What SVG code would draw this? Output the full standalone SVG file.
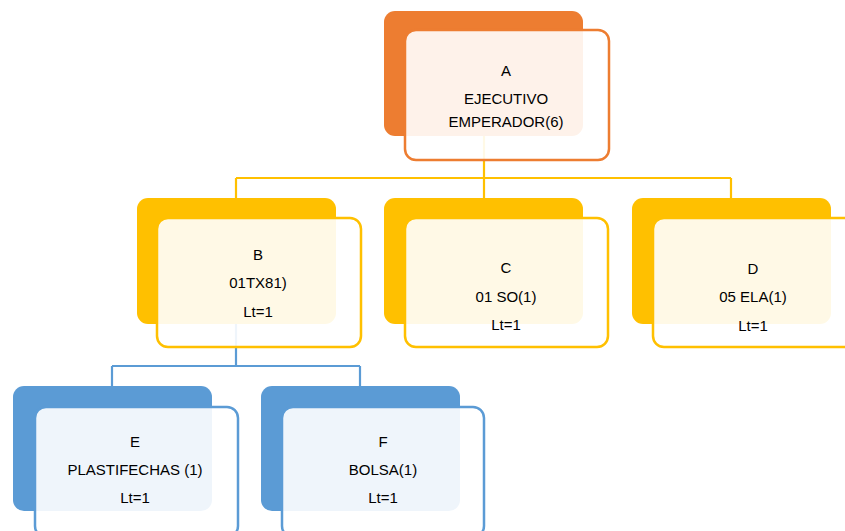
<svg xmlns="http://www.w3.org/2000/svg" width="845" height="531" viewBox="0 0 845 531">
<style>
.o{fill:#ED7D31}.y{fill:#FFC000}.b{fill:#5B9BD5}
.fo,.fy,.fb{fill:#fff;fill-opacity:0.9;stroke-width:2.5}
.fo{stroke:#ED7D31}.fy{stroke:#FFC000}.fb{stroke:#5B9BD5}
.cy{fill:none;stroke:#FFC000;stroke-width:2.2}
.cb{fill:none;stroke:#5B9BD5;stroke-width:2.2}
text{font-family:"Liberation Sans",Arial,sans-serif;font-size:15px;fill:#000;text-anchor:middle}
</style>
<g id="backs">
<rect class="o" x="384" y="11" width="199" height="125" rx="11"/>
<rect class="y" x="137" y="198" width="199" height="126" rx="11"/>
<rect class="y" x="384" y="198" width="199" height="126" rx="11"/>
<rect class="y" x="632" y="198" width="199" height="126" rx="11"/>
<rect class="b" x="13" y="386" width="199" height="125" rx="11"/>
<rect class="b" x="261" y="386" width="199" height="125" rx="11"/>
</g>
<g id="connectors">
<path class="cy" d="M484 136V178M236 178H731M236 178V198M484 178V198M731 178V198"/>
<path class="cb" d="M236 324V366M112 366H360M112 366V386M360 366V386"/>
</g>
<g id="A">
<rect class="fo" x="405" y="30" width="204" height="130" rx="11"/>
<text x="506" y="76">A</text>
<text x="506" y="104">EJECUTIVO</text>
<text x="506" y="127">EMPERADOR(6)</text>
</g>
<g id="B">
<rect class="fy" x="157" y="218" width="204" height="129" rx="11"/>
<text x="258" y="260">B</text>
<text x="258" y="288">01TX81)</text>
<text x="258" y="317">Lt=1</text>
</g>
<g id="C">
<rect class="fy" x="405" y="218" width="203" height="129" rx="11"/>
<text x="506" y="273">C</text>
<text x="506" y="302">01 SO(1)</text>
<text x="506" y="330">Lt=1</text>
</g>
<g id="D">
<rect class="fy" x="653" y="218" width="204" height="129" rx="11"/>
<text x="753" y="274">D</text>
<text x="753" y="302">05 ELA(1)</text>
<text x="753" y="331">Lt=1</text>
</g>
<g id="E">
<rect class="fb" x="35" y="407" width="203" height="130" rx="11"/>
<text x="135" y="447">E</text>
<text x="135" y="475">PLASTIFECHAS (1)</text>
<text x="135" y="503">Lt=1</text>
</g>
<g id="F">
<rect class="fb" x="282" y="407" width="202" height="130" rx="11"/>
<text x="383" y="447">F</text>
<text x="383" y="475">BOLSA(1)</text>
<text x="383" y="503">Lt=1</text>
</g>
</svg>
